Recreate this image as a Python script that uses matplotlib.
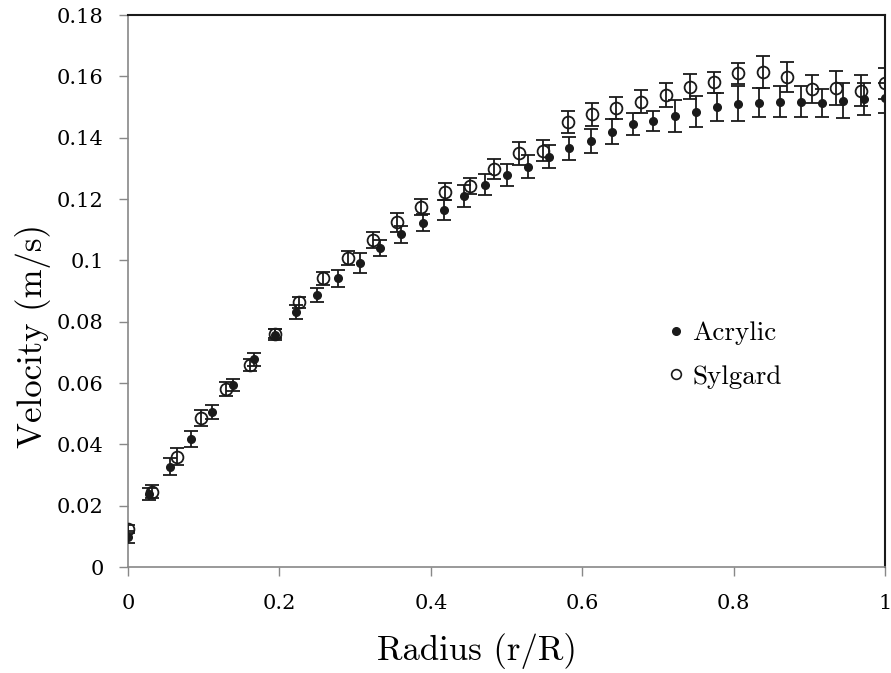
import matplotlib
matplotlib.use("Agg")
from matplotlib import pyplot as plt
from matplotlib.lines import Line2D

# --- data ---
acrylic_x = [0.000, 0.028, 0.056, 0.083, 0.111, 0.139, 0.167, 0.194, 0.222, 0.250,
             0.278, 0.306, 0.333, 0.361, 0.389, 0.417, 0.444, 0.472, 0.500, 0.528,
             0.556, 0.583, 0.611, 0.639, 0.667, 0.694, 0.722, 0.750, 0.778, 0.806,
             0.833, 0.861, 0.889, 0.917, 0.944, 0.972, 1.000]
acrylic_v = [0.0099, 0.0238, 0.0327, 0.0416, 0.0504, 0.0593, 0.0677, 0.0757, 0.0832, 0.0887,
             0.0941, 0.0992, 0.1039, 0.1085, 0.1123, 0.1164, 0.1210, 0.1246, 0.1278, 0.1305,
             0.1338, 0.1365, 0.1389, 0.1420, 0.1444, 0.1455, 0.1472, 0.1485, 0.1501, 0.1510,
             0.1514, 0.1517, 0.1517, 0.1514, 0.1520, 0.1526, 0.1530]
acrylic_err = [0.0020, 0.0020, 0.0028, 0.0026, 0.0023, 0.0020, 0.0020, 0.0018, 0.0022, 0.0023,
               0.0027, 0.0032, 0.0026, 0.0028, 0.0027, 0.0034, 0.0037, 0.0034, 0.0036, 0.0038,
               0.0037, 0.0037, 0.0038, 0.0042, 0.0035, 0.0033, 0.0052, 0.0050, 0.0046, 0.0057,
               0.0048, 0.0051, 0.0050, 0.0046, 0.0057, 0.0052, 0.0049]

sylgard_x = [0.000, 0.032, 0.065, 0.097, 0.129, 0.161, 0.194, 0.226, 0.258, 0.290,
             0.323, 0.355, 0.387, 0.419, 0.452, 0.484, 0.516, 0.548, 0.581, 0.613,
             0.645, 0.677, 0.710, 0.742, 0.774, 0.806, 0.839, 0.871, 0.903, 0.935,
             0.968, 1.000]
sylgard_v = [0.0124, 0.0246, 0.0360, 0.0485, 0.0580, 0.0659, 0.0761, 0.0863, 0.0941, 0.1009,
             0.1066, 0.1124, 0.1175, 0.1224, 0.1242, 0.1297, 0.1349, 0.1357, 0.1452, 0.1476,
             0.1496, 0.1517, 0.1539, 0.1566, 0.1580, 0.1610, 0.1615, 0.1599, 0.1559, 0.1561,
             0.1553, 0.1577]
sylgard_err = [0.0013, 0.0020, 0.0028, 0.0026, 0.0024, 0.0020, 0.0015, 0.0019, 0.0022, 0.0023,
               0.0027, 0.0030, 0.0026, 0.0027, 0.0027, 0.0033, 0.0037, 0.0034, 0.0036, 0.0037,
               0.0036, 0.0037, 0.0038, 0.0041, 0.0034, 0.0034, 0.0052, 0.0049, 0.0046, 0.0056,
               0.0050, 0.0050]

x_ticks = [0, 0.2, 0.4, 0.6, 0.8, 1]
x_labels = ["0", "0.2", "0.4", "0.6", "0.8", "1"]
y_ticks = [0, 0.02, 0.04, 0.06, 0.08, 0.1, 0.12, 0.14, 0.16, 0.18]
y_labels = ["0", "0.02", "0.04", "0.06", "0.08", "0.1", "0.12", "0.14", "0.16", "0.18"]

label_font = "cmr10"
tick_font = "DejaVu Serif"

fig = plt.figure(figsize=(8.91, 6.73), dpi=100)
ax = fig.add_axes([0.1437, 0.1575, 0.8496, 0.8202])

ax.errorbar(acrylic_x, acrylic_v, yerr=acrylic_err, fmt="o", color="#1a1a1a",
            ms=5.5, elinewidth=1.3, capsize=5, capthick=1.3, zorder=3)
ax.errorbar(sylgard_x, sylgard_v, yerr=sylgard_err, fmt="o", color="#1a1a1a",
            mfc="none", mec="#1a1a1a", mew=1.3, ms=8.5, elinewidth=1.3,
            capsize=5, capthick=1.3, zorder=4)

ax.set_xlim(0, 1)
ax.set_ylim(0, 0.18)
ax.set_xticks(x_ticks)
ax.set_xticklabels(x_labels, family=tick_font, fontsize=15)
ax.set_yticks(y_ticks)
ax.set_yticklabels(y_labels, family=tick_font, fontsize=15)
ax.tick_params(axis="both", direction="out", length=6.5, width=1, color="#888888")
ax.tick_params(axis="y", pad=11)
ax.tick_params(axis="x", pad=13)

for side in ("left", "bottom"):
    ax.spines[side].set_color("#888888")
    ax.spines[side].set_linewidth(1.2)
for side in ("top", "right"):
    ax.spines[side].set_color("#1a1a1a")
    ax.spines[side].set_linewidth(1.5)

ax.set_xlabel("Radius (r/R)", family=label_font, fontsize=25, va="center")
ax.xaxis.set_label_coords(0.461, -0.152)
ax.set_ylabel("Velocity (m/s)", family=label_font, fontsize=25, va="center")
ax.yaxis.set_label_coords(-0.126, 0.418)

handles = [
    Line2D([], [], ls="none", marker="o", color="#1a1a1a", ms=5.5),
    Line2D([], [], ls="none", marker="o", mfc="none", mec="#1a1a1a", mew=1.2, ms=7),
]
leg = ax.legend(handles, ["Acrylic", "Sylgard"], frameon=False, loc="center left",
                bbox_to_anchor=(0.681, 0.384), prop={"family": label_font, "size": 19.5},
                handlelength=0.6, handletextpad=0.3, labelspacing=0.73, borderpad=0.4)

fig.savefig("out.png", dpi=100)
